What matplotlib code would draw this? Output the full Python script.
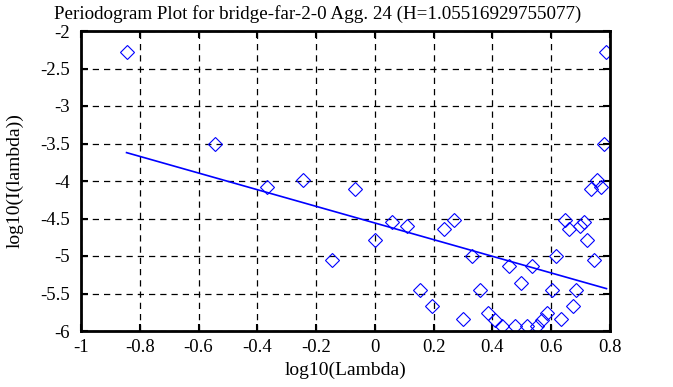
import numpy as np
import matplotlib
matplotlib.use("Agg")
import matplotlib.pyplot as plt

# periodogram points: log10(lambda) vs log10(I(lambda))
log_lambda = [-0.845, -0.544, -0.368, -0.243, -0.146, -0.067, 0.000, 0.058,
              0.109, 0.155, 0.196, 0.234, 0.269, 0.301, 0.331, 0.359, 0.385,
              0.410, 0.434, 0.456, 0.477, 0.497, 0.516, 0.535, 0.553, 0.570,
              0.586, 0.602, 0.617, 0.632, 0.646, 0.660, 0.673, 0.686, 0.699,
              0.711, 0.723, 0.735, 0.746, 0.757, 0.768, 0.778, 0.788]
log_I = [-2.28, -3.50, -4.08, -3.99, -5.05, -4.10, -4.79, -4.54, -4.60, -5.45,
         -5.67, -4.64, -4.52, -5.84, -5.00, -5.45, -5.76, -5.85, -5.93, -5.13,
         -5.93, -5.36, -5.93, -5.13, -5.93, -5.85, -5.76, -5.45, -5.00, -5.84,
         -4.52, -4.64, -5.67, -5.45, -4.60, -4.54, -4.79, -4.10, -5.05, -3.99,
         -4.08, -3.50, -2.28]

H = 1.05516929755077
fit_slope = 1 - 2 * H
fit_intercept = -4.56

xticks = [-1, -0.8, -0.6, -0.4, -0.2, 0, 0.2, 0.4, 0.6, 0.8]
yticks = [-2, -2.5, -3, -3.5, -4, -4.5, -5, -5.5, -6]

plt.rcParams['font.family'] = ['Liberation Serif', 'DejaVu Serif']

fig = plt.figure(figsize=(6.73, 3.87), dpi=100)
ax = fig.add_axes([81 / 673, 1 - 331 / 387, 529 / 673, 300 / 387])

x = np.array(log_lambda)
ax.plot(x, log_I, linestyle='none', marker='D', markersize=7.2,
        markerfacecolor='none', markeredgecolor='#0000ff', markeredgewidth=0.8)
xs = np.array([x.min(), x.max()])
ax.plot(xs, fit_intercept + fit_slope * xs, color='#0000ff', linewidth=1.2)

ax.set_xlim(-1, 0.8)
ax.set_ylim(-6, -2)
ax.set_xticks(xticks)
ax.set_yticks(yticks)
ax.set_xticklabels([f"{t:g}" for t in xticks])
ax.set_yticklabels([f"{t:g}" for t in yticks])
ax.grid(True, color='black', linestyle=(0, (5, 4)), linewidth=0.9)
ax.tick_params(direction='in', length=5, width=1.5, top=True, right=True,
               labelsize=13.5)
ax.tick_params(axis='y', pad=8)
ax.tick_params(axis='x', pad=6)
for s in ax.spines.values():
    s.set_linewidth(2)

ax.set_xlabel('log10(Lambda)', fontsize=14, labelpad=4)
ax.set_ylabel('log10(I(lambda))', fontsize=14, labelpad=12)
ax.set_title('Periodogram Plot for bridge-far-2-0 Agg. 24 (H=1.05516929755077)',
             fontsize=13.7, pad=9, x=0.447)

fig.savefig('out.png', dpi=100)
